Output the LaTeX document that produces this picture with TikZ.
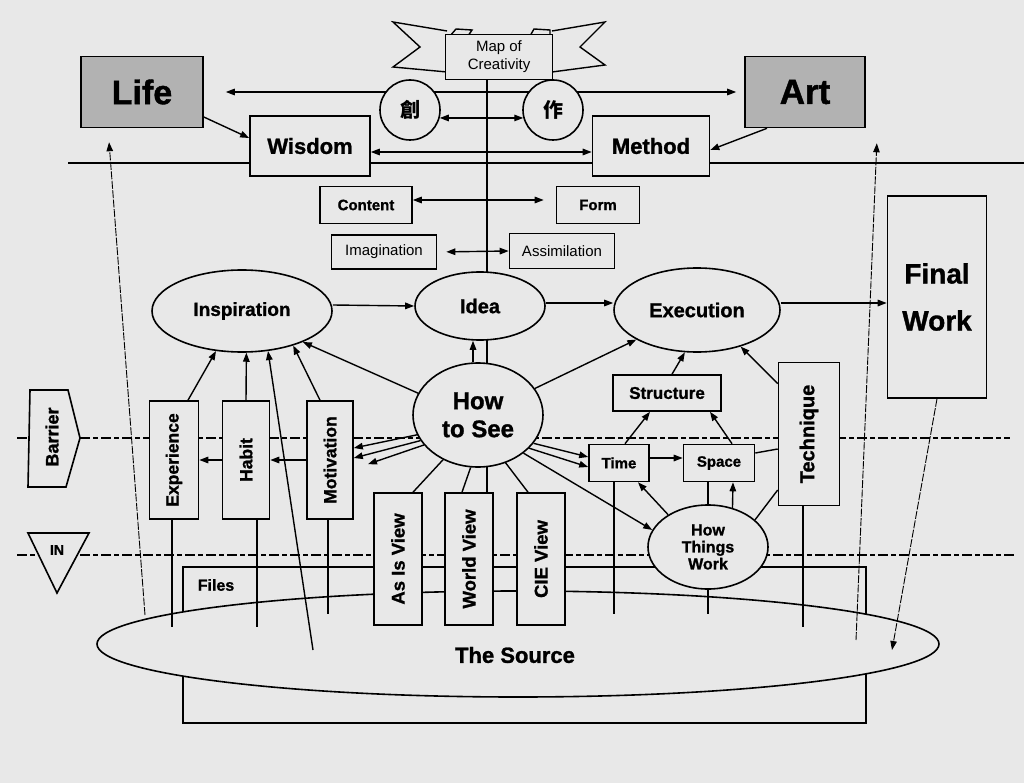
\documentclass[tikz,border=0pt]{standalone}
\usepackage{fontspec}
\setmainfont{Liberation Sans}[BoldFeatures={FakeBold=1.2}]
\newfontfamily\cjk{Noto Sans CJK TC}
\usepackage{graphicx}
\usetikzlibrary{shapes.geometric, arrows.meta, backgrounds}

\definecolor{paper}{gray}{0.91}
\definecolor{shade}{gray}{0.70}
\newcommand{\sizeat}[2]{\fontsize{#1}{#2}\selectfont}

\tikzset{
  box/.style={draw, line width=1.6pt, fill=paper, inner sep=1pt, align=center},
  oval/.style={ellipse, draw, line width=1.6pt, fill=paper, inner sep=0pt, align=center},
  arr/.style={-{Triangle[length=9pt,width=6.5pt]}, line width=1.4pt},
  dbl/.style={{Triangle[length=9pt,width=6.5pt]}-{Triangle[length=9pt,width=6.5pt]}, line width=1.4pt},
  plain/.style={line width=1.4pt},
  barrierline/.style={line width=1.5pt, dash pattern=on 10pt off 3pt on 5pt off 3pt},
  thinlong/.style={line width=0.9pt, dash pattern=on 8pt off 1.5pt},
}

\begin{document}
\begin{tikzpicture}[x=1pt, y=-1pt]
  \useasboundingbox (0,0) rectangle (1024,783);

  % The source at the bottom
  \node[oval, minimum width=842, minimum height=106] (source) at (518,644) {};
  \node[font=\sizeat{22}{24}\bfseries] (srctext) at (515,655) {The Source};
  \node[font=\sizeat{16}{18}\bfseries] (files) at (216,585) {Files};
  \coordinate (srcLife) at (145,615);
  \coordinate (srcInsp) at (313,650);
  \coordinate (srcArt) at (856,640);
  \coordinate (srcFinal) at (892,650);
  \coordinate (deep) at (0,627);
  \coordinate (shallow) at (0,614);

  % Banner of the map
  \draw[plain, fill=paper] (447,31) -- (393,22) -- (420,47) -- (393,67) -- (447,72);
  \draw[plain, fill=paper] (552,31) -- (605,22) -- (580,47) -- (605,65) -- (552,72);
  \draw[plain, fill=paper] (450,36) -- (456,29) -- (472,30) -- (468,36);
  \draw[plain, fill=paper] (530,36) -- (534,29) -- (550,30) -- (550,36);
  \node[box, minimum width=107, minimum height=45, font=\sizeat{15}{18}] (map) at (499,57) {Map of\\Creativity};

  % Top row
  \node[box, fill=shade, minimum width=122, minimum height=71, font=\sizeat{34}{36}\bfseries] (life) at (142,92) {Life};
  \node[box, fill=shade, minimum width=120, minimum height=71, font=\sizeat{35}{36}\bfseries] (art) at (805,92) {Art};
  \node[circle, draw, line width=1.6pt, fill=paper, minimum size=60, inner sep=0pt, font=\sizeat{20}{20}\cjk\bfseries] (chuang) at (410,110) {創};
  \node[circle, draw, line width=1.6pt, fill=paper, minimum size=60, inner sep=0pt, font=\sizeat{20}{20}\cjk\bfseries] (zuo) at (553,110) {作};
  \node[box, minimum width=120, minimum height=60, font=\sizeat{22}{24}\bfseries] (wisdom) at (310,146) {Wisdom};
  \node[box, minimum width=117, minimum height=60, font=\sizeat{22}{24}\bfseries] (method) at (651,146) {Method};
  \node[box, minimum width=92, minimum height=37, font=\sizeat{15}{17}\bfseries] (content) at (366,205) {Content};
  \node[box, minimum width=83, minimum height=37, font=\sizeat{15}{17}\bfseries] (form) at (598,205) {Form};
  \node[box, minimum width=105, minimum height=34, font=\sizeat{15}{17}] (imag) at (384,252) {Imagination};
  \node[box, minimum width=105, minimum height=35, font=\sizeat{15}{17}] (assim) at (562,251) {Assimilation};

  % Stages
  \node[oval, minimum width=180, minimum height=82, font=\sizeat{19}{21}\bfseries] (insp) at (242,311) {Inspiration};
  \node[oval, minimum width=130, minimum height=68, font=\sizeat{20}{22}\bfseries] (idea) at (480,306) {Idea};
  \node[oval, minimum width=166, minimum height=84, font=\sizeat{20}{22}\bfseries] (exec) at (697,310) {Execution};
  \node[box, minimum width=99, minimum height=202, font=\sizeat{28}{47}\bfseries] (final) at (937,297) {Final\\Work};
  \node[oval, minimum width=130, minimum height=104, font=\sizeat{24}{28}\bfseries] (howsee) at (478,415) {How\\to See};

  % Upright boxes
  \foreach \name/\x/\w/\txt in {experience/174/49/Experience, habit/246/47/Habit, motivation/330/46/Motivation}
    \node[box, minimum width=\w, minimum height=118, font=\sizeat{17.5}{19}\bfseries] (\name) at (\x,460) {\rotatebox{90}{\txt}};
  \foreach \name/\x/\txt in {asis/398/As Is View, world/469/World View, cie/541/CIE View}
    \node[box, minimum width=48, minimum height=132, font=\sizeat{18.5}{20}\bfseries] (\name) at (\x,559) {\rotatebox{90}{\txt}};

  % Right side
  \node[box, minimum width=108, minimum height=36, font=\sizeat{17}{19}\bfseries] (structure) at (667,393) {Structure};
  \node[box, minimum width=60, minimum height=37, font=\sizeat{15}{17}\bfseries] (time) at (619,463) {Time};
  \node[box, minimum width=71, minimum height=37, font=\sizeat{15}{17}\bfseries] (space) at (719,463) {Space};
  \node[box, minimum width=61, minimum height=143, font=\sizeat{20}{22}\bfseries] (technique) at (809,434) {\rotatebox{90}{Technique}};
  \node[oval, minimum width=120, minimum height=84, font=\sizeat{16}{17}\bfseries] (htw) at (708,547) {How\\Things\\Work};

  % Barrier and IN
  \draw[line width=1.6pt, fill=paper] (30,390) -- (68,390) -- (80,438) -- (66,487) -- (28,487) -- cycle;
  \node[font=\sizeat{18}{20}\bfseries] (barrier) at (52,437) {\rotatebox{90}{Barrier}};
  \draw[line width=1.6pt, fill=paper] (28,533) -- (89,533) -- (57,593) -- cycle;
  \node[font=\sizeat{14}{16}\bfseries] (in) at (57,550) {IN};

  \begin{pgfonlayer}{background}
    \fill[paper] (0,0) rectangle (1024,783);
    % Lines behind the boxes
    \draw[line width=1.6pt] (68,163) -- (1024,163);
    \draw[barrierline] (17,438) -- (1010,438);
    \draw[barrierline] (17,555) -- (1015,555);
    \draw[line width=1.5pt] (183,567) rectangle (866,723);
    \draw[plain] ([xshift=-12pt]map.south) -- ([xshift=-12pt]map.south |- world.north);
    \draw[dbl, shorten <=22pt, shorten >=8pt] (life.east) -- (art.west);
  \end{pgfonlayer}

  % Top connectors
  \draw[dbl] (chuang.-15) -- (zuo.195);
  \draw[arr] ([yshift=-25pt]life.east) -- ([yshift=8pt]wisdom.west);
  \draw[arr] ([xshift=-38pt]art.south) -- ([yshift=-4pt]method.east);
  \draw[dbl] ([yshift=-6pt]wisdom.east) -- ([yshift=-6pt]method.west);
  \draw[dbl, shorten >=12pt] ([yshift=5pt]content.east) -- ([yshift=5pt]form.west);
  \draw[dbl, shorten <=9pt] (imag.east) -- (assim.west);

  % Main flow
  \draw[arr] ([yshift=6pt]insp.east) -- (idea.west);
  \draw[arr] ([yshift=3pt]idea.east) -- ([yshift=7pt]exec.west);
  \draw[arr] ([yshift=7pt]exec.east) -- ([yshift=-6pt]final.west);

  % Out of How to See
  \draw[arr] ([xshift=-5pt]howsee.north) -- ([xshift=-7pt]idea.south);
  \draw[arr] (howsee.160) -- (insp.-27);
  \draw[arr] (howsee.25) -- (exec.206);
  \draw[arr] (howsee.198) -- ([yshift=12pt]motivation.east);
  \draw[arr] (howsee.204) -- ([yshift=2pt]motivation.east);
  \draw[arr, shorten >=15pt] (howsee.209) -- ([yshift=-9pt]motivation.east);
  \draw[plain] (howsee.232) -- ([xshift=15pt]asis.north);
  \draw[plain] (howsee.262) -- ([xshift=-7pt]world.north);
  \draw[plain] (howsee.300) -- ([xshift=-13pt]cie.north);
  \draw[arr] (howsee.-27) -- ([yshift=6pt]time.west);
  \draw[arr] (howsee.-33) -- ([yshift=-4pt]time.west);
  \draw[arr] (howsee.-40) -- (htw.163);

  % Left side into Inspiration
  \draw[arr] (motivation.west) -- (habit.east);
  \draw[arr] (habit.west) -- (experience.east);
  \draw[arr] ([xshift=14pt]experience.north) -- (insp.237);
  \draw[arr] (habit.north) -- (insp.-84);
  \draw[arr] ([xshift=-10pt]motivation.north) -- (insp.-34);
  \draw[arr] (srcInsp) -- (insp.-57);

  % Right side into Execution
  \draw[arr] ([xshift=5pt]structure.north) -- (exec.254);
  \draw[arr] ([yshift=-22pt]technique.north west) -- (exec.-40);
  \draw[arr] ([xshift=6pt]time.north) -- ([xshift=-17pt]structure.south);
  \draw[arr] ([xshift=13pt]space.north) -- ([xshift=43pt]structure.south);
  \draw[arr] ([yshift=5pt]time.east) -- ([yshift=5pt]space.west);
  \draw[plain] ([yshift=10pt]space.east) -- ([yshift=-15pt]technique.west);
  \draw[arr] (htw.141) -- ([xshift=19pt]time.south);
  \draw[arr] (htw.58) -- ([xshift=14pt]space.south);
  \draw[plain] (htw.north) -- ([xshift=-11pt]space.south);
  \draw[plain] (htw.30) -- ([yshift=-56pt]technique.west);

  % Roots in the source
  \foreach \from/\dx/\depth in {experience/-2/deep, habit/11/deep, motivation/-2/shallow, time/-5/shallow, htw/0/shallow, technique/-6/deep}
    \draw[plain] ([xshift=\dx pt]\from.south) -- ([xshift=\dx pt]\from.south |- \depth);
  \draw[arr, thinlong, shorten >=14pt] (srcLife) -- ([xshift=-34pt]life.south);
  \draw[arr, thinlong] (srcArt) -- ([xshift=11pt,yshift=-15pt]art.south east);
  \draw[arr, thinlong] (final.south) -- (srcFinal);
\end{tikzpicture}
\end{document}
